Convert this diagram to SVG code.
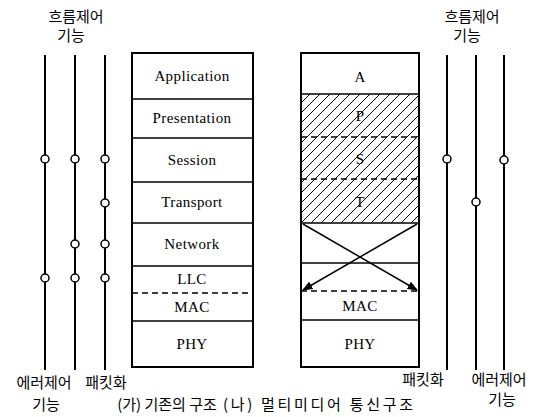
<svg xmlns="http://www.w3.org/2000/svg" width="545" height="417" viewBox="0 0 545 417">
<style>
.ko{font-family:"Noto Sans CJK KR","Noto Sans",sans-serif;font-size:15px;fill:#000;text-anchor:middle}
.lb{font-family:"Liberation Serif","Times New Roman",serif;font-size:15px;letter-spacing:0.4px;fill:#000;text-anchor:middle}
.ln{stroke:#000;stroke-width:2;fill:none}
.bx{stroke:#000;stroke-width:2;fill:#fff}
.dv{stroke:#000;stroke-width:1.5}
.ds{stroke:#000;stroke-width:1.5;stroke-dasharray:6,4}
.nd{fill:#fff;stroke:#000;stroke-width:1.5}
.ht{stroke:#000;stroke-width:1}
</style>
<defs>
<clipPath id="hc"><rect x="301" y="94" width="118" height="129"/></clipPath>
<marker id="ah" viewBox="0 0 10 10" refX="9" refY="5" markerWidth="7" markerHeight="7" orient="auto"><path d="M0,1 L10,5 L0,9 z" fill="#000"/></marker>
</defs>
<rect width="545" height="417" fill="#fff"/>
<g id="connectors">
<line class="ln" x1="45" y1="55" x2="45" y2="370"/>
<line class="ln" x1="75" y1="55" x2="75" y2="370"/>
<line class="ln" x1="105" y1="55" x2="105" y2="370"/>
<line class="ln" x1="447" y1="55" x2="447" y2="370"/>
<line class="ln" x1="476" y1="55" x2="476" y2="370"/>
<line class="ln" x1="504" y1="55" x2="504" y2="370"/>
</g>
<g id="nodes-left-lines">
<circle class="nd" cx="45" cy="159" r="4"/>
<circle class="nd" cx="45" cy="278" r="4"/>
<circle class="nd" cx="75" cy="159" r="4"/>
<circle class="nd" cx="75" cy="244" r="4"/>
<circle class="nd" cx="75" cy="278" r="4"/>
<circle class="nd" cx="105" cy="159" r="4"/>
<circle class="nd" cx="105" cy="203" r="4"/>
<circle class="nd" cx="105" cy="244" r="4"/>
<circle class="nd" cx="105" cy="278" r="4"/>
</g>
<g id="nodes-right-lines">
<circle class="nd" cx="447" cy="159" r="4"/>
<circle class="nd" cx="476" cy="202" r="4"/>
<circle class="nd" cx="504" cy="160" r="4"/>
</g>
<g id="stack-left">
<rect class="bx" x="132" y="53" width="121" height="314"/>
<line class="dv" x1="132" y1="99" x2="253" y2="99"/>
<line class="dv" x1="132" y1="138" x2="253" y2="138"/>
<line class="dv" x1="132" y1="182" x2="253" y2="182"/>
<line class="dv" x1="132" y1="223" x2="253" y2="223"/>
<line class="dv" x1="132" y1="266" x2="253" y2="266"/>
<line class="ds" x1="132" y1="293" x2="253" y2="293"/>
<line class="dv" x1="132" y1="321" x2="253" y2="321"/>
<text class="lb" x="192" y="81">Application</text>
<text class="lb" x="192" y="123">Presentation</text>
<text class="lb" x="192" y="165">Session</text>
<text class="lb" x="192" y="207">Transport</text>
<text class="lb" x="192" y="249">Network</text>
<text class="lb" x="192" y="284">LLC</text>
<text class="lb" x="192" y="312">MAC</text>
<text class="lb" x="192" y="349">PHY</text>
</g>
<g id="stack-right">
<rect class="bx" x="301" y="53" width="118" height="314"/>
<g clip-path="url(#hc)">
<path class="ht" d="M291,233 L441,83 M301,233 L451,83 M311,233 L461,83 M321,233 L471,83 M331,233 L481,83 M341,233 L491,83 M351,233 L501,83 M361,233 L511,83 M371,233 L521,83 M381,233 L531,83 M391,233 L541,83 M401,233 L551,83 M411,233 L561,83 M281,233 L431,83 M271,233 L421,83 M261,233 L411,83 M251,233 L401,83 M241,233 L391,83 M231,233 L381,83 M221,233 L371,83 M211,233 L361,83 M201,233 L351,83 M191,233 L341,83 M181,233 L331,83 M171,233 L321,83 M161,233 L311,83"/>
</g>
<line class="dv" x1="301" y1="94" x2="419" y2="94"/>
<line class="ds" x1="301" y1="137" x2="419" y2="137"/>
<line class="ds" x1="301" y1="179" x2="419" y2="179"/>
<line class="dv" x1="301" y1="223" x2="419" y2="223"/>
<line class="dv" x1="301" y1="263" x2="419" y2="263"/>
<line class="ds" x1="301" y1="291" x2="419" y2="291"/>
<line class="dv" x1="301" y1="320" x2="419" y2="320"/>
<line class="dv" x1="303" y1="224" x2="417" y2="290" marker-end="url(#ah)"/>
<line class="dv" x1="417" y1="224" x2="303" y2="290" marker-end="url(#ah)"/>
<text class="lb" x="360" y="82">A</text>
<text class="lb" x="360" y="121">P</text>
<text class="lb" x="360" y="164">S</text>
<text class="lb" x="360" y="207">T</text>
<text class="lb" x="360" y="311">MAC</text>
<text class="lb" x="360" y="349">PHY</text>
</g>
<g id="labels">
<text class="ko" x="76" y="22">흐름제어</text>
<text class="ko" x="71" y="41">기능</text>
<text class="ko" x="472" y="22">흐름제어</text>
<text class="ko" x="467" y="41">기능</text>
<text class="ko" x="44" y="388">에러제어</text>
<text class="ko" x="46" y="410">기능</text>
<text class="ko" x="106" y="388">패킷화</text>
<text class="ko" x="167" y="410">(가) 기존의 구조</text>
<text class="ko" x="318" y="410" textLength="190" lengthAdjust="spacing">(나) 멀티미디어 통신구조</text>
<text class="ko" x="423" y="385">패킷화</text>
<text class="ko" x="499" y="385">에러제어</text>
<text class="ko" x="502" y="405">기능</text>
</g>
</svg>
